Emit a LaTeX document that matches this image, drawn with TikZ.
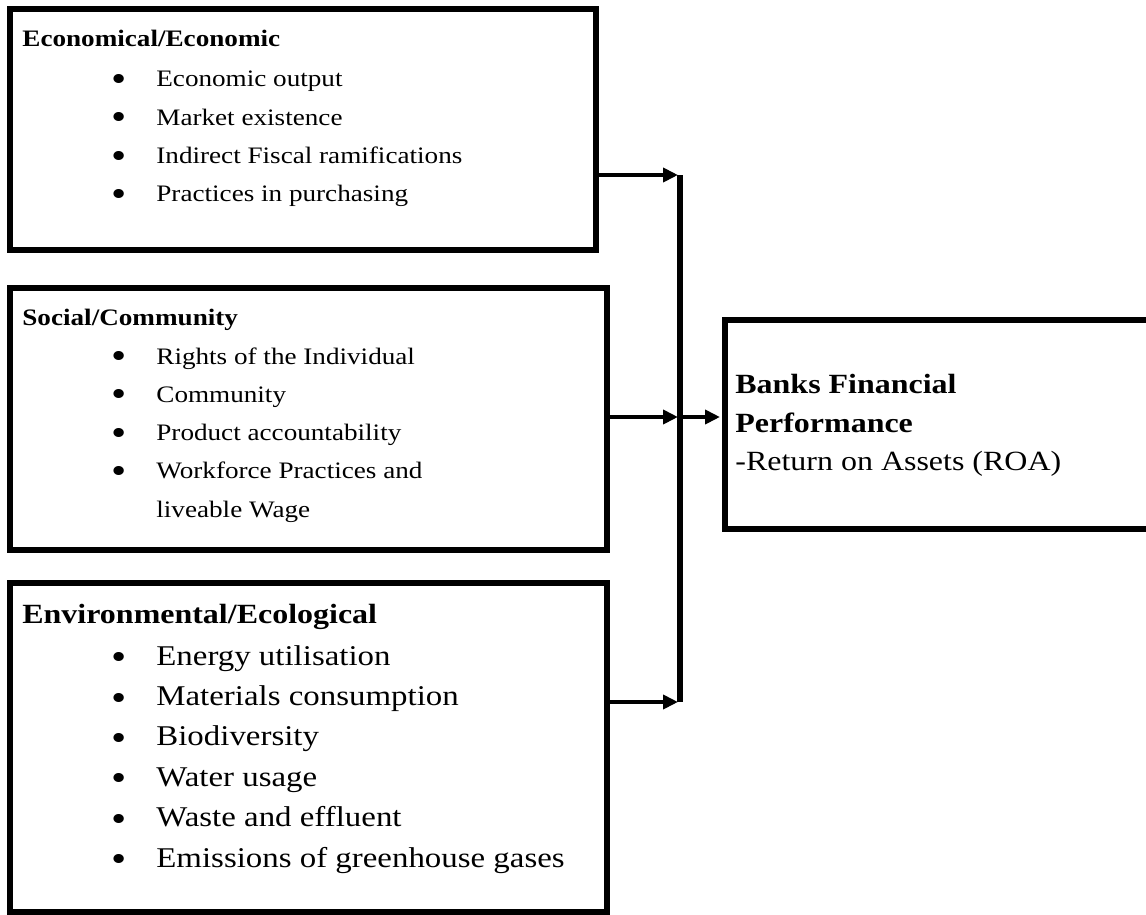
\documentclass[tikz,border=0pt]{standalone}
\usepackage{fontspec}
\setmainfont{Liberation Serif}[FakeStretch=1.15]
\usepackage{tikz}
\usetikzlibrary{arrows.meta}
\newcommand{\bul}{\makebox[22.5pt][l]{\smash{\raisebox{-2.3pt}{\fontsize{18.9}{19}\selectfont\textbullet}}}}

\begin{document}
\begin{tikzpicture}[
  x=0.5pt,
  y=-0.5pt,
  panel/.style={draw=black, line width=3pt, inner sep=0pt, fill=none},
  head/.style={anchor=base west, inner sep=0pt,
    font=\fontsize{11.8}{14}\selectfont\bfseries},
  item/.style={anchor=base west, inner sep=0pt,
    font=\fontsize{11.8}{14}\selectfont},
  bighead/.style={head, font=\fontsize{13.9}{16}\selectfont\bfseries},
  bigitem/.style={item, font=\fontsize{14.3}{16}\selectfont},
  outhead/.style={head, font=\fontsize{13.9}{16}\selectfont\bfseries},
  outitem/.style={item, font=\fontsize{13.9}{16}\selectfont},
  link/.style={draw=black, line width=2.6pt},
  flow/.style={-{Triangle[length=7.5pt,width=7pt]}, draw=black,
    line width=2.4pt, shorten >=1pt}
]
\useasboundingbox (0,0) rectangle (1146,915);

% Economic dimension
\node[panel, minimum width=293pt, minimum height=120.5pt] (econ) at (303,129.5) {};
\node[head] (econhead) at (22,47) {Economical/Economic};
\foreach \txt [count=\i from 0] in {Economic output, Market existence,
    Indirect Fiscal ramifications, Practices in purchasing}
  \node[item] (econ-\i) at (111,87+38.3*\i) {\bul\txt};

% Social dimension
\node[panel, minimum width=298.5pt, minimum height=131pt] (soc) at (308.5,419) {};
\node[head] (sochead) at (22,325) {Social/Community};
\foreach \txt [count=\i from 0] in {Rights of the Individual, Community,
    Product accountability, Workforce Practices and}
  \node[item] (soc-\i) at (111,364+38.3*\i) {\bul\txt};
\node[item] (soc-wrap) at (156,517) {liveable Wage};

% Environmental dimension
\node[panel, minimum width=298.5pt, minimum height=164.5pt] (env) at (308.5,747.5) {};
\node[bighead] (envhead) at (22,623) {Environmental/Ecological};
\foreach \txt [count=\i from 0] in {Energy utilisation, Materials consumption,
    Biodiversity, Water usage, Waste and effluent, Emissions of greenhouse gases}
  \node[bigitem] (env-\i) at (111,665+40.4*\i) {\bul\txt};

% Outcome
\node[panel, minimum width=222.5pt, minimum height=104.5pt] (bank) at (947.5,424.5) {};
\node[outhead] (bankhead1) at (735,393) {Banks Financial};
\node[outhead] (bankhead2) at (735,432) {Performance};
\node[outitem] (roa) at (735,470) {-Return on Assets (ROA)};

% Joining line and arrows
\coordinate (jeco) at (680,175);
\coordinate (jsoc) at (680,417);
\coordinate (jenv) at (680,702);
\draw[link] (jeco) -- (jenv);
\draw[flow] (econ.east |- jeco) -- (jeco);
\draw[flow] (soc.east |- jsoc) -- (jsoc);
\draw[flow] (env.east |- jenv) -- (jenv);
\draw[flow] (jsoc) -- (bank.west |- jsoc);
\end{tikzpicture}
\end{document}
